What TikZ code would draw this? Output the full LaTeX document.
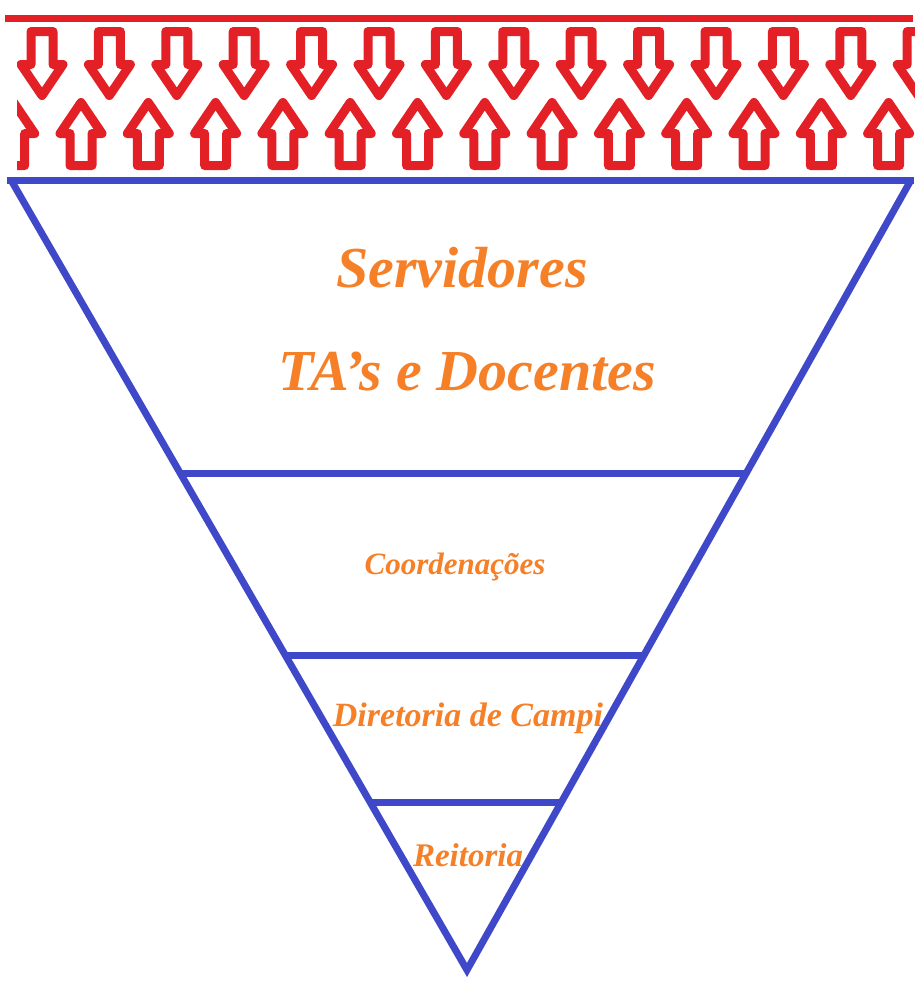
\documentclass[tikz,border=0pt]{standalone}
\usepackage{fontspec}
\setmainfont{Liberation Serif}
\usetikzlibrary{calc}
\definecolor{arrred}{RGB}{226,32,38}
\definecolor{triblue}{RGB}{62,72,200}
\definecolor{lblorange}{RGB}{245,128,40}
\begin{document}
\begin{tikzpicture}[x=1pt,y=-1pt,
  redline/.style={draw=arrred,line width=7pt},
  hollowarrow/.style={draw=arrred,line width=9pt,line join=round,fill=white},
  tribar/.style={draw=triblue,line width=7pt},
  lbl/.style={text=lblorange,inner sep=0pt}]
\useasboundingbox (0,0) rectangle (915,983);
\fill[white] (0,0) rectangle (915,983);
% red top line
\coordinate (RL) at (5,18);
\coordinate (RR) at (913,18);
\draw[redline] (RL) -- (RR);
% arrow band
\begin{scope}
  \clip (17,22) rectangle (915,175);
  \foreach \k in {0,...,13}{
    \draw[hollowarrow] ({42+67.4*\k-11},31.5) -- ++(22,0) -- ++(0,33) -- ++(10,0)
      -- ++(-21,31) -- ++(-21,-31) -- ++(10,0) -- cycle;
  }
  \foreach \k in {-1,...,12}{
    \draw[hollowarrow] ({81+67.3*\k-11},165.5) -- ++(22,0) -- ++(0,-32) -- ++(10,0)
      -- ++(-21,-31) -- ++(-21,31) -- ++(10,0) -- cycle;
  }
\end{scope}
% inverted triangle
\coordinate (BL) at (7,180);
\coordinate (BR) at (914,180);
\coordinate (TL) at (11,180);
\coordinate (TR) at (911,180);
\coordinate (AP) at (467,970);
\draw[tribar] (BL) -- (BR);
\draw[tribar,line join=miter] (TL) -- (AP) -- (TR);
\draw[tribar] ($(TL)!0.371!(AP)$) -- ($(TR)!0.371!(AP)$);
\draw[tribar] ($(TL)!0.602!(AP)$) -- ($(TR)!0.602!(AP)$);
\draw[tribar] ($(TL)!0.788!(AP)$) -- ($(TR)!0.788!(AP)$);
% labels
\node[lbl,font=\bfseries\itshape\fontsize{58}{58}\selectfont] (serv) at (462,268) {Servidores};
\node[lbl,font=\bfseries\itshape\fontsize{58}{58}\selectfont] (ta) at (467,372) {TA's e Docentes};
\node[lbl,font=\bfseries\itshape\fontsize{31}{31}\selectfont] (coord) at (455,567) {Coordenações};
\node[lbl,font=\bfseries\itshape\fontsize{34}{34}\selectfont] (dir) at (468,718) {Diretoria de Campi};
\node[lbl,font=\bfseries\itshape\fontsize{33}{33}\selectfont] (reit) at (468,855) {Reitoria};
\end{tikzpicture}
\end{document}
